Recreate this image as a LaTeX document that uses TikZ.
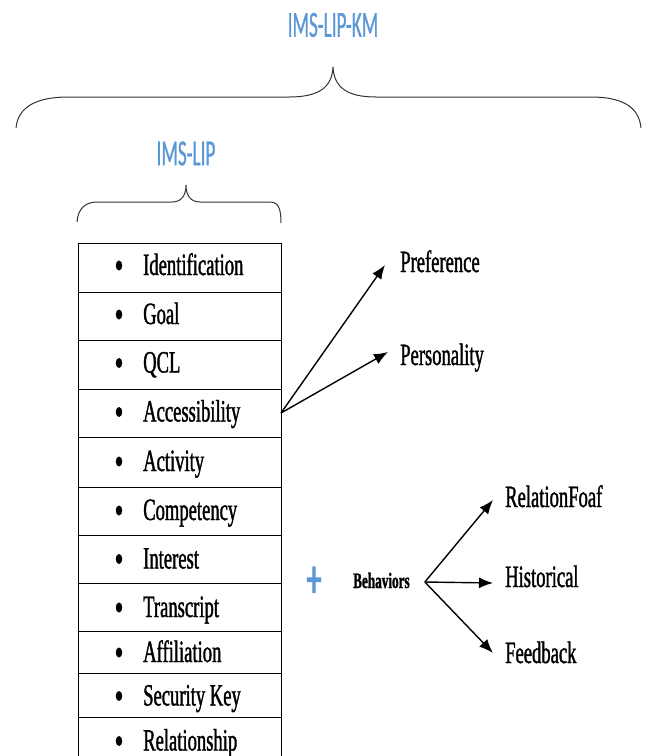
\documentclass[tikz,border=0pt]{standalone}
\usepackage{fontspec}
\usetikzlibrary{arrows.meta,shapes.geometric,calc}
\newfontfamily\condserif[FakeStretch=0.6,FakeBold=1.2]{Liberation Serif}
\newfontfamily\titlefont[FakeStretch=0.52,FakeBold=0.6]{Carlito}
\newfontfamily\plusfont[FakeStretch=0.52,FakeBold=2]{Carlito}
\definecolor{tblue}{RGB}{91,150,215}
\begin{document}
\begin{tikzpicture}[x=1pt,y=-1pt,
  rowbox/.style={draw=black,line width=0.9pt,minimum width=203pt,inner sep=0pt,outer sep=0pt},
  item/.style={font=\condserif\fontsize{31}{31}\selectfont,inner sep=0pt},
  dotmark/.style={ellipse,fill=black,minimum width=6.5pt,minimum height=10pt,inner sep=0pt},
  title/.style={font=\titlefont\fontsize{37}{37}\selectfont,text=tblue,inner sep=0pt},
  brace/.style={line width=1pt,black!80},
  arr/.style={line width=1.4pt,-{Latex[length=14pt,width=11pt]}}]
\clip (0,0) rectangle (646,756);
\useasboundingbox (0,0) rectangle (646,756);
% titles
\node[title] (km) at (333,25) {IMS-LIP-KM};
\node[title] (lip) at (186,153.5) {IMS-LIP};
% big brace
\draw[brace] (16,128) .. controls (18,105) and (40,97) .. (68,97) -- (289,97)
  .. controls (318,97) and (332,88) .. (333,67)
  .. controls (334,88) and (348,97) .. (376,97) -- (591,97)
  .. controls (619,97) and (639,105) .. (641,128);
% small brace
\draw[brace] (77,222) .. controls (78,208) and (86,202) .. (97,202) -- (172,202)
  .. controls (181,202) and (186,196) .. (186,185)
  .. controls (186,196) and (191,202) .. (200,202) -- (270,202)
  .. controls (279,202) and (281,210) .. (281,223);
% table
\foreach \i/\t/\b/\bl/\lab in {1/243/292/275/Identification,2/292/340/324/Goal,
  3/340/389/372.5/QCL,4/389/437/421.5/Accessibility,5/437/487/471/Activity,
  6/487/535/520/Competency,7/535/583/568.5/Interest,8/583/631/617/Transcript,
  9/631/673/662/Affiliation,10/673/717/705.5/Security Key,11/717/762/750.5/Relationship}{
  \node[rowbox,minimum height={\b-\t}] (r\i) at (179.5,{(\t+\b)/2}) {};
  \node[item,anchor=base west] (t\i) at (143,\bl) {\lab};
  \node[dotmark] (d\i) at (119,{\bl-9.5}) {};
}
% accessibility arrows
\node[item,anchor=base west] (pref) at (400,272) {Preference};
\node[item,anchor=base west] (pers) at (400,365) {Personality};
\draw[arr] (r4.east) -- ($(pref.base west)+(-15,-7)$);
\draw[arr] (r4.east) -- ($(pers.base west)+(-12,-13)$);
% behaviors
\node[font=\plusfont\fontsize{55}{55}\selectfont,text=tblue,inner sep=0pt] (plus) at (314,582) {+};
\node[font=\condserif\bfseries\fontsize{22}{22}\selectfont,inner sep=0pt,anchor=base west] (beh) at (353,588) {Behaviors};
\coordinate (bs) at ($(beh.base east)+(15,-6)$);
\node[item,anchor=base west] (rf) at (505,507) {RelationFoaf};
\node[item,anchor=base west] (hist) at (505,587) {Historical};
\node[item,anchor=base west] (fb) at (505,663) {Feedback};
\draw[arr] (bs) -- ($(rf.base west)+(-12,-7)$);
\draw[arr] (bs) -- ($(hist.base west)+(-12,-4)$);
\draw[arr] (bs) -- ($(fb.base west)+(-12,-10)$);
\end{tikzpicture}
\end{document}
